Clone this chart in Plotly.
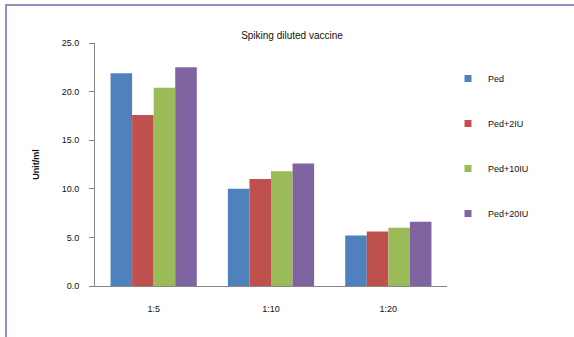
import plotly.graph_objects as go

categories = ["1:5", "1:10", "1:20"]
series_names = ["Ped", "Ped+2IU", "Ped+10IU", "Ped+20IU"]
ped = [21.9, 10.0, 5.2]
ped_2iu = [17.6, 11.0, 5.6]
ped_10iu = [20.4, 11.8, 6.0]
ped_20iu = [22.5, 12.6, 6.6]
y_ticks = [0, 5, 10, 15, 20, 25]
y_tick_labels = ["0.0", "5.0", "10.0", "15.0", "20.0", "25.0"]

colors = ["#4F81BD", "#C0504D", "#9BBB59", "#8064A2"]
values = [ped, ped_2iu, ped_10iu, ped_20iu]

W, H = 574, 337
L, R, T, B = 95, 127, 43, 51
plot_w, plot_h = W - L - R, H - T - B

fig = go.Figure()
for name, vals, col in zip(series_names, values, colors):
    fig.add_trace(go.Bar(
        x=categories, y=vals, name=name, marker_color=col,
        marker_line_width=0, legendgroup=name, showlegend=False,
    ))
    # compact square swatch for the legend entry
    fig.add_trace(go.Scatter(
        x=[None], y=[None], mode="markers", name=name, legendgroup=name,
        marker=dict(symbol="square", size=7, color=col),
    ))

font = "Liberation Sans, Arial, sans-serif"


def px_to_paper_x(px):
    return (px - L) / plot_w


def px_to_paper_y(py):
    return (H - B - py) / plot_h


# outer chart frame: left and top edges fall inside the page
fig.add_shape(type="rect", xref="paper", yref="paper",
              x0=px_to_paper_x(6), x1=px_to_paper_x(590),
              y0=px_to_paper_y(350), y1=px_to_paper_y(5),
              line=dict(color="#8c95bd", width=2), layer="below")

fig.update_layout(
    width=W, height=H,
    margin=dict(l=L, r=R, t=T, b=B),
    paper_bgcolor="white", plot_bgcolor="white",
    barmode="group", bargap=0.265, bargroupgap=0,
    font=dict(family=font, size=9, color="#111111"),
    title=dict(text="Spiking diluted vaccine", x=292 / W, xanchor="center",
               y=1 - 35 / H, yanchor="middle", font=dict(size=10)),
    legend=dict(x=px_to_paper_x(448), xanchor="left",
                y=px_to_paper_y(64), yanchor="top",
                tracegroupgap=26, itemwidth=30,
                font=dict(size=9), bgcolor="rgba(0,0,0,0)"),
    xaxis=dict(showline=True, linecolor="#868686", linewidth=1,
               ticks="", showgrid=False, tickfont=dict(size=9),
               ticklabelstandoff=14),
    yaxis=dict(range=[0, 25], tickvals=y_ticks, ticktext=y_tick_labels,
               showline=True, linecolor="#868686", linewidth=1,
               ticks="outside", ticklen=5, tickcolor="#868686",
               ticklabelstandoff=8,
               showgrid=False, zeroline=False,
               title=dict(text="<b>Unit/ml</b>", font=dict(size=9), standoff=20)),
)

fig.write_html("out.html")
